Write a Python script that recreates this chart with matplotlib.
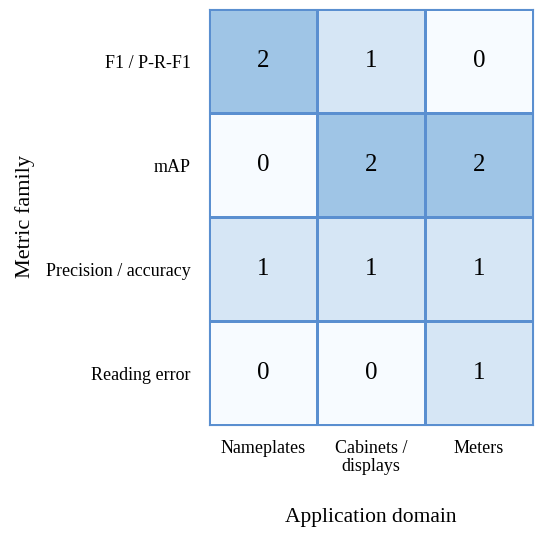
import matplotlib
matplotlib.use("Agg")
import matplotlib.pyplot as plt
import numpy as np
from matplotlib.colors import ListedColormap

plt.rcParams['font.family'] = ['Liberation Serif', 'DejaVu Serif']

metric_families = ["F1 / P-R-F1", "mAP", "Precision / accuracy", "Reading error"]
domains = ["Nameplates", "Cabinets /\ndisplays", "Meters"]
counts = np.array([
    [2, 1, 0],
    [0, 2, 2],
    [1, 1, 1],
    [0, 0, 1],
])

cmap = ListedColormap(["#f7fbff", "#d6e6f5", "#9fc5e6"])
edge = "#5a8fd0"

fig = plt.figure(figsize=(5.5, 5.38), dpi=100)
ax = fig.add_axes([209/550, 1 - 425/538, (533-209)/550, (425-9)/538])
ax.pcolormesh(counts, cmap=cmap, vmin=-0.5, vmax=2.5, edgecolors=edge, linewidth=0.8)
ax.set_xlim(0, 3)
ax.set_ylim(4, 0)
for i in range(counts.shape[0]):
    for j in range(counts.shape[1]):
        ax.text(j + 0.5, i + 0.5, str(counts[i, j]), ha="center", va="center", fontsize=18)

ax.set_xticks(np.arange(3) + 0.5)
ax.set_xticklabels(domains, fontsize=13, linespacing=1.05)
ax.set_yticks(np.arange(4) + 0.5)
ax.set_yticklabels(metric_families, fontsize=13)
ax.tick_params(length=0)
ax.tick_params(axis='x', pad=11)
ax.tick_params(axis='y', pad=13)
for s in ax.spines.values():
    s.set_color(edge)
    s.set_linewidth(0.8)
ax.set_xlabel("Application domain", fontsize=15.5, labelpad=24)
ax.set_ylabel("Metric family", fontsize=16, labelpad=8)

fig.savefig("out.png", dpi=100)
